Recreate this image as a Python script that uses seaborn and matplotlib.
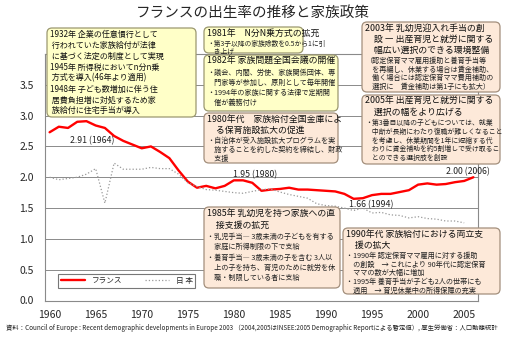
import numpy as np
import pandas as pd
import matplotlib
matplotlib.use('Agg')
import matplotlib.pyplot as plt
from matplotlib.patches import FancyBboxPatch
import seaborn as sns

sns.set_theme(style='white')
plt.rcParams['font.family'] = ['Noto Sans CJK JP', 'DejaVu Sans']
plt.rcParams['axes.unicode_minus'] = False

# total fertility rate
years_fr = list(range(1960, 2007))
france = [2.73, 2.82, 2.80, 2.90, 2.91, 2.84, 2.80, 2.67, 2.59, 2.53,
          2.47, 2.50, 2.41, 2.31, 2.11, 1.93, 1.83, 1.86, 1.82, 1.86,
          1.95, 1.95, 1.91, 1.78, 1.80, 1.81, 1.83, 1.80, 1.80, 1.79,
          1.78, 1.77, 1.73, 1.65, 1.66, 1.71, 1.73, 1.73, 1.76, 1.79,
          1.88, 1.90, 1.88, 1.89, 1.92, 1.94, 2.00]
years_jp = list(range(1960, 2006))
japan = [2.00, 1.96, 1.98, 2.00, 2.05, 2.14, 1.58, 2.23, 2.13, 2.13,
         2.13, 2.16, 2.14, 2.14, 2.05, 1.91, 1.85, 1.80, 1.79, 1.77,
         1.75, 1.74, 1.77, 1.80, 1.81, 1.76, 1.72, 1.69, 1.66, 1.57,
         1.54, 1.53, 1.50, 1.46, 1.50, 1.42, 1.43, 1.39, 1.38, 1.34,
         1.36, 1.33, 1.32, 1.29, 1.29, 1.26]
series_names = ['フランス', '日 本']
x_labels = [1960, 1965, 1970, 1975, 1980, 1985, 1990, 1995, 2000, 2005]
y_ticks = [0.0, 0.5, 1.0, 1.5, 2.0, 2.5, 3.0, 3.5]
peaks = [(1964, 2.91, '2.91 (1964)', (4, -14)),
         (1980, 1.95, '1.95 (1980)', (15, 4)),
         (1994, 1.66, '1.66 (1994)', (6, -5)),
         (2006, 2.00, '2.00 (2006)', (-4, 4))]

title = 'フランスの出生率の推移と家族政策'
source = ('資料：Council of Europe : Recent demographic developments in Europe 2003 '
          '（2004,2005はINSEE:2005 Demographic Reportによる暫定値）, 厚生労働省：人口動態統計')

W, H = 506, 352
fig = plt.figure(figsize=(W / 100, H / 100), dpi=100)
fig.patch.set_facecolor('white')
ax = fig.add_axes([45 / W, 1 - 300.5 / H, 433 / W, 246.5 / H])

df_fr = pd.DataFrame({'year': years_fr, 'tfr': france})
df_jp = pd.DataFrame({'year': years_jp, 'tfr': japan})
sns.lineplot(data=df_fr, x='year', y='tfr', ax=ax, color='#FF0000', lw=1.7,
             label=series_names[0])
sns.lineplot(data=df_jp, x='year', y='tfr', ax=ax, color='#999999', lw=0.9,
             linestyle=':', label=series_names[1])

ax.set_xlim(1959.5, 2006.5)
ax.set_ylim(0, 4.0)
ax.set_xlabel('')
ax.set_ylabel('')
ax.set_yticks(y_ticks)
ax.set_yticklabels([f'{v:.1f}' for v in y_ticks], fontsize=7.5)
ax.set_xticks(x_labels)
ax.set_xticklabels([str(v) for v in x_labels], fontsize=7.5)
ax.set_xticks(np.arange(1964.5, 2005, 5), minor=True)
ax.tick_params(axis='x', which='major', length=0, pad=7)
ax.tick_params(axis='x', which='minor', length=3, direction='in', color='#666666')
ax.tick_params(axis='y', length=0, pad=8)
ax.yaxis.grid(True, color='#8a8a8a', lw=0.7)
ax.set_axisbelow(True)
for s in ax.spines.values():
    s.set_color('#8a8a8a')
    s.set_linewidth(0.8)

for x, y, txt, off in peaks:
    ax.annotate(txt, xy=(x, y), xytext=off, textcoords='offset points',
                ha='center', va='center', fontsize=6.3, color='#222222')

leg = ax.legend(loc='lower left', bbox_to_anchor=(0.022, 0.036), ncol=2,
                fontsize=5.5, frameon=True, fancybox=False, handlelength=3.2,
                columnspacing=3.0, borderpad=0.35, handletextpad=0.8)
leg.get_frame().set_edgecolor('#555555')
leg.get_frame().set_linewidth(0.8)

fig.text(0.5, 1 - 13 / H, title, ha='center', va='center', fontsize=10.5)
fig.text(6 / W, 1 - 328 / H, source, ha='left', va='center', fontsize=4.55,
         color='#222222')

YEL, YEL_E = '#FFFFC8', '#9B9870'
PCH, PCH_E = '#FDE9D9', '#A38F7C'


def draw_box(x0, y0, x1, y1, head, body, fc, ec, hs=6.4, bs=5.15, hl=11, bl=9):
    box = FancyBboxPatch((x0 / 100, (H - y1) / 100), (x1 - x0) / 100, (y1 - y0) / 100,
                         boxstyle='round,pad=0,rounding_size=0.05',
                         transform=fig.dpi_scale_trans, fc=fc, ec=ec, lw=0.9,
                         zorder=5)
    fig.patches.append(box)
    y = y0 + 2
    for line in head:
        fig.text((x0 + 3) / 100, (H - y) / 100, line, transform=fig.dpi_scale_trans,
                 ha='left', va='top', fontsize=hs, color='#111111', zorder=6)
        y += hl
    for line in body:
        fig.text((x0 + 3) / 100, (H - y) / 100, line, transform=fig.dpi_scale_trans,
                 ha='left', va='top', fontsize=bs, color='#222222', zorder=6)
        y += bl


draw_box(47, 28, 196, 117,
         ['1932年 企業の任意慣行として', ' 行われていた家族給付が法律',
          ' に基づく法定の制度として実現', '1945年 所得税においてn分n乗',
          ' 方式を導入(46年より適用)', '1948年 子ども数増加に伴う住',
          ' 居費負担増に対処するため家', ' 族給付に住宅手当が導入'],
         [], YEL, YEL_E, hs=5.8, hl=10.9)

draw_box(204, 27, 303, 53,
         ['1981年　N分N乗方式の拡充'],
         ['・第3子以降の家族除数を0.5から1に引', '　き上げ'],
         YEL, YEL_E, hl=11, bl=7.5, bs=4.9)

draw_box(204, 55, 338, 111,
         ['1982年 家族問題全国会議の開催'],
         ['・議会、内閣、労使、家族関係団体、専', '　門家等が参加し、原則として毎年開催',
          '・1994年の家族に関する法律で定期開', '　催が義務付け'],
         YEL, YEL_E, hl=11.5, bl=10)

draw_box(204, 113, 338, 163,
         ['1980年代　家族給付全国金庫によ', '　る保育施設拡大の促進'],
         ['・自治体が受入施設拡大プログラムを実', '　施することを約した契約を締結し、財政',
          '　支援'],
         PCH, PCH_E, hl=11, bl=9)

draw_box(362, 22, 500, 92,
         ['2003年 乳幼児迎入れ手当の創', '　設 ― 出産育児と就労に関する',
          '　幅広い選択のできる環境整備'],
         ['（認定保育ママ雇用援助と養育手当等', '　を再編し、休業する場合は賃金補助、',
          '　働く場合には認定保育ママ費用補助の', '　選択に　賃金補助は第1子にも拡大）'],
         PCH, PCH_E, hl=11, bl=8.5)

draw_box(362, 95, 500, 164,
         ['2005年 出産育児と就労に関する', '　選択の幅をより広げる'],
         ['・第3番目以降の子どもについては、就業', '　中断が長期にわたり復職が難しくなること',
          '　を考慮し、休業期間を1年に短縮する代', '　わりに賃金補助を約5割増しで受け取るこ',
          '　とのできる選択肢を創設'],
         PCH, PCH_E, hl=11, bl=8.8, bs=4.95)

draw_box(204, 207, 340, 288,
         ['1985年 乳幼児を持つ家族への直', '　接支援の拡充'],
         ['・乳児手当― 3歳未満の子どもを有する', '　家庭に所得制限の下で支給',
          '・養育手当― 3歳未満の子を含む 3人以', '　上の子を持ち、育児のために就労を休',
          '　職・制限している者に支給'],
         PCH, PCH_E, hl=12, bl=10.3)

draw_box(343, 228, 500, 294,
         ['1990年代 家族給付における両立支', '　援の拡大'],
         ['・1990年 認定保育ママ雇用に対する援助', '　の創設　→ これにより 90年代に認定保育',
          '　ママの数が大幅に増加', '・1995年 養育手当が子ども2人の世帯にも',
          '　適用　→ 育児休業中の所得保障の充実'],
         PCH, PCH_E, hl=11, bl=8.6)

fig.savefig('out.png', dpi=100)
